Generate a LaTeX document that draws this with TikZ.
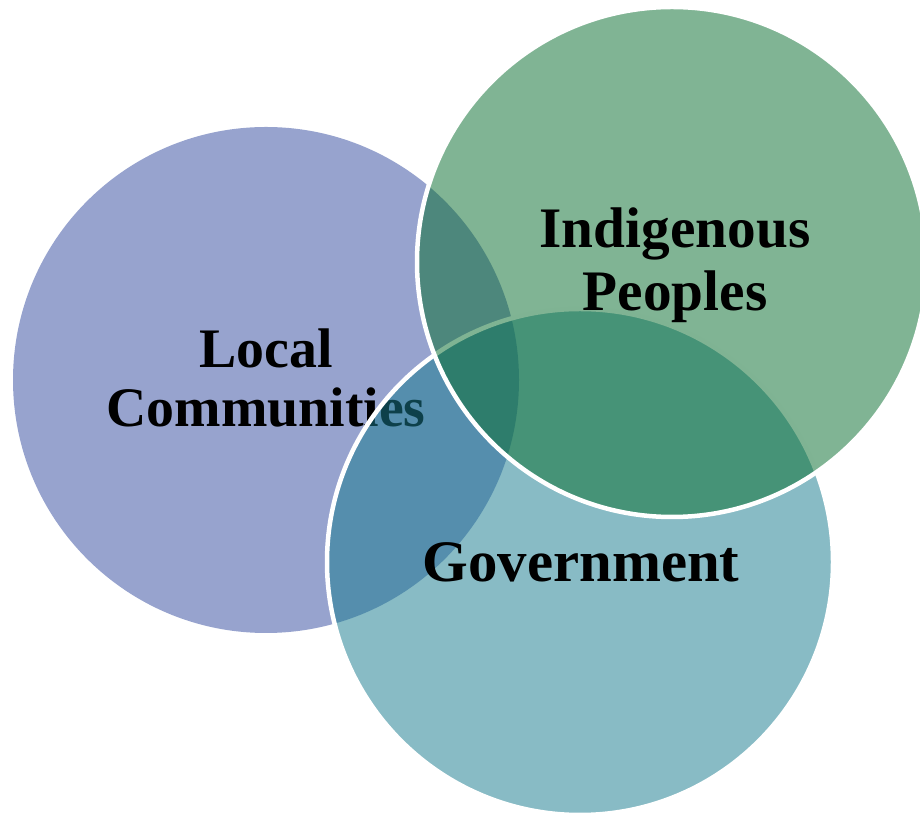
\documentclass[tikz,border=0pt]{standalone}
\usepackage{tikz}
\usepackage{xcolor}
\usepackage{fontspec}
\setmainfont{Liberation Serif}
\definecolor{LocalBlue}{rgb}{0.592, 0.639, 0.808}
\definecolor{GovTeal}{rgb}{0.102, 0.486, 0.561}
\definecolor{IndGreen}{rgb}{0.043, 0.435, 0.192}

\begin{document}
\begin{tikzpicture}[x=1bp, y=1bp,
        venn/.style={draw=white, line width=4.5bp, fill opacity=0.52},
        lbl/.style={font=\fontsize{56}{60}\selectfont\bfseries, align=center, text=black}]
                \clip (0,0) rectangle (920,815);

                \fill[LocalBlue] (266,435) circle (253);
                \node[lbl] (local) at (266,437) {Local\\Communities};

                \draw[venn, fill=GovTeal] (580,253) circle (253);
                \node[lbl, font=\fontsize{59}{63}\selectfont\bfseries] (gov) at (581,253) {Government};

                \draw[venn, fill=IndGreen] (672,553) circle (255);
                \node[lbl, font=\fontsize{57.5}{63}\selectfont\bfseries] (indig) at (675,550) {Indigenous\\Peoples};
        \end{tikzpicture}
\end{document}
